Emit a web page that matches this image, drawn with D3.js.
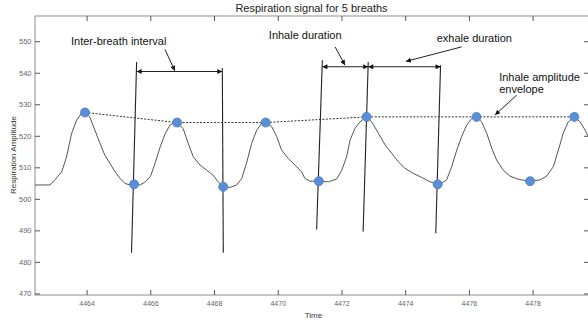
<!DOCTYPE html>
<html>
<head>
<meta charset="utf-8">
<script src="https://cdn.jsdelivr.net/npm/d3@7"></script>
<style>
body { margin: 0; background: #fff; }
text { font-family: "Liberation Sans", Arial, sans-serif; }
</style>
</head>
<body>
<script>
// respiration trace
var sigTime = [4462.38, 4462.85, 4463.00, 4463.22, 4463.37, 4463.53, 4463.69, 4463.84, 4463.95, 4464.10,
    4464.26, 4464.42, 4464.57, 4464.73, 4464.89, 4465.05, 4465.20, 4465.36, 4465.49, 4465.68,
    4465.84, 4466.00, 4466.15, 4466.31, 4466.47, 4466.62, 4466.78, 4466.84, 4467.03, 4467.19,
    4467.35, 4467.56, 4467.77, 4467.97, 4468.13, 4468.29, 4468.50, 4468.71, 4468.87, 4469.02,
    4469.18, 4469.34, 4469.49, 4469.62, 4469.81, 4469.97, 4470.12, 4470.33, 4470.54, 4470.75,
    4470.85, 4471.01, 4471.29, 4471.59, 4471.85, 4472.01, 4472.16, 4472.27, 4472.42, 4472.58,
    4472.79, 4472.95, 4473.16, 4473.37, 4473.58, 4473.78, 4473.99, 4474.25, 4474.52, 4474.78,
    4475.02, 4475.09, 4475.30, 4475.46, 4475.62, 4475.77, 4475.93, 4476.09, 4476.24, 4476.40,
    4476.56, 4476.72, 4476.87, 4477.08, 4477.29, 4477.55, 4477.92, 4478.23, 4478.44, 4478.65,
    4478.81, 4478.96, 4479.12, 4479.31, 4479.49, 4479.65, 4479.77];
var sigAmp = [504.4, 504.4, 506.0, 508.6, 513.3, 520.8, 525.0, 527.1, 527.4, 526.0,
    521.8, 517.6, 513.9, 511.3, 508.6, 506.5, 504.9, 504.4, 504.6, 504.4,
    505.4, 507.0, 511.3, 516.5, 520.8, 523.4, 524.4, 524.2, 522.3, 517.6,
    513.3, 510.7, 509.1, 507.5, 505.4, 503.8, 503.6, 504.4, 506.5, 511.3,
    517.6, 521.8, 523.9, 524.2, 522.9, 519.7, 515.5, 512.8, 510.7, 508.6,
    506.5, 505.6, 505.6, 505.4, 506.3, 509.1, 513.3, 518.6, 522.3, 524.4,
    526.0, 524.4, 520.8, 517.1, 514.4, 511.8, 509.7, 508.1, 506.8, 505.4,
    504.6, 504.6, 506.0, 510.2, 515.5, 519.7, 523.4, 525.5, 526.0, 524.4,
    520.8, 516.0, 512.3, 509.1, 507.2, 506.2, 505.6, 506.0, 507.2, 510.2,
    515.5, 520.8, 524.4, 526.0, 524.4, 521.8, 519.2];

var peakTime = [4463.95, 4466.84, 4469.62, 4472.79, 4476.24, 4479.31];
var peakAmp = [527.4, 524.2, 524.2, 526.0, 526.0, 526.0];
var troughTime = [4465.49, 4468.29, 4471.29, 4475.02, 4477.92];
var troughAmp = [504.6, 503.8, 505.6, 504.6, 505.6];

var xTicks = [4464, 4466, 4468, 4470, 4472, 4474, 4476, 4478];
var yTicks = [470, 480, 490, 500, 510, 520, 530, 540, 550];

// annotation marks, in time / amplitude units
var guideLines = [
    [4465.57, 543.4, 4465.41, 482.9],
    [4468.26, 541.5, 4468.29, 482.9],
    [4471.40, 544.0, 4471.22, 490.3],
    [4472.84, 543.4, 4472.68, 489.6],
    [4475.11, 542.4, 4474.96, 489.1]
];
var spans = [
    [4465.57, 4468.26, 540.4],
    [4471.40, 4472.84, 541.9],
    [4472.84, 4475.11, 541.9]
];
var pointers = [
    [4466.46, 547.4, 4466.77, 540.6],
    [4471.80, 548.2, 4472.11, 542.4],
    [4475.77, 548.2, 4474.02, 543.6],
    [4477.50, 532.9, 4476.82, 526.6]
];
var labels = [
    ["Inter-breath interval", 4463.51, 550.0],
    ["Inhale duration", 4469.72, 551.9],
    ["exhale duration", 4474.99, 551.0],
    ["Inhale amplitude", 4476.95, 538.7],
    ["envelope", 4476.95, 534.7]
];

var width = 588, height = 324;
var mLeft = 35, mRight = 589, mTop = 16, mBottom = 295;

var svg = d3.select("body").append("svg")
    .attr("width", width)
    .attr("height", height);

var x = d3.scaleLinear().domain([4462.38, 4479.77]).range([mLeft, mRight]);
var y = d3.scaleLinear().domain([469.5, 558]).range([mBottom, mTop]);

svg.append("defs").append("marker")
    .attr("id", "head")
    .attr("viewBox", "0 -5 10 10")
    .attr("refX", 10)
    .attr("refY", 0)
    .attr("markerWidth", 6)
    .attr("markerHeight", 5)
    .attr("markerUnits", "userSpaceOnUse")
    .attr("orient", "auto-start-reverse")
    .append("path")
    .attr("d", "M0,-5L10,0L0,5Z")
    .attr("fill", "#111");

// frame
svg.append("rect")
    .attr("x", mLeft).attr("y", mTop)
    .attr("width", mRight - mLeft).attr("height", mBottom - mTop)
    .attr("fill", "none")
    .attr("stroke", "#a0a0a0")
    .attr("stroke-width", 1.2);

function styleAxis(g) {
    g.select(".domain").remove();
    g.selectAll(".tick line").attr("stroke", "#555");
    g.selectAll(".tick text").attr("fill", "#666").attr("font-family", "Liberation Sans, Arial, sans-serif");
}

svg.append("g")
    .attr("transform", `translate(0,${mBottom})`)
    .call(d3.axisBottom(x).tickValues(xTicks).tickSize(-5).tickPadding(6.5).tickFormat(d3.format("d")))
    .call(styleAxis)
    .selectAll("text").attr("font-size", 7);

svg.append("g")
    .attr("transform", `translate(0,${mTop})`)
    .call(d3.axisTop(x).tickValues(xTicks).tickSize(-5).tickFormat(""))
    .call(styleAxis);

svg.append("g")
    .attr("transform", `translate(${mLeft},0)`)
    .call(d3.axisLeft(y).tickValues(yTicks).tickSize(-5).tickPadding(3.5))
    .call(styleAxis)
    .selectAll("text").attr("font-size", 7.5);

svg.append("g")
    .attr("transform", `translate(${mRight},0)`)
    .call(d3.axisRight(y).tickValues(yTicks).tickSize(-5).tickFormat(""))
    .call(styleAxis);

// titles
svg.append("text")
    .attr("x", 311.5).attr("y", 8)
    .attr("dy", "0.35em")
    .attr("text-anchor", "middle")
    .attr("font-size", 11)
    .attr("fill", "#222")
    .text("Respiration signal for 5 breaths");

svg.append("text")
    .attr("x", 313.5).attr("y", 315)
    .attr("dy", "0.35em")
    .attr("text-anchor", "middle")
    .attr("font-size", 8)
    .attr("fill", "#333")
    .text("Time");

svg.append("text")
    .attr("transform", "translate(13,155) rotate(-90)")
    .attr("dy", "0.35em")
    .attr("text-anchor", "middle")
    .attr("font-size", 8)
    .attr("fill", "#333")
    .text("Respiration Amplitude");

var plot = svg.append("g");

// signal
var sig = sigTime.map((t, i) => [t, sigAmp[i]]);
plot.append("path")
    .datum(sig)
    .attr("fill", "none")
    .attr("stroke", "#555")
    .attr("stroke-width", 1)
    .attr("d", d3.line().x(d => x(d[0])).y(d => y(d[1])));

// amplitude envelope
var peaks = peakTime.map((t, i) => [t, peakAmp[i]]);
plot.append("path")
    .datum(peaks)
    .attr("fill", "none")
    .attr("stroke", "#333")
    .attr("stroke-width", 1)
    .attr("stroke-dasharray", "2,1.5")
    .attr("d", d3.line().x(d => x(d[0])).y(d => y(d[1])));

// annotation lines
plot.selectAll(".guide")
    .data(guideLines)
    .enter().append("line")
    .attr("class", "guide")
    .attr("x1", d => x(d[0])).attr("y1", d => y(d[1]))
    .attr("x2", d => x(d[2])).attr("y2", d => y(d[3]))
    .attr("stroke", "#222")
    .attr("stroke-width", 1.1);

plot.selectAll(".span")
    .data(spans)
    .enter().append("line")
    .attr("class", "span")
    .attr("x1", d => x(d[0])).attr("y1", d => y(d[2]))
    .attr("x2", d => x(d[1])).attr("y2", d => y(d[2]))
    .attr("stroke", "#222")
    .attr("stroke-width", 1.1)
    .attr("marker-start", "url(#head)")
    .attr("marker-end", "url(#head)");

plot.selectAll(".pointer")
    .data(pointers)
    .enter().append("line")
    .attr("class", "pointer")
    .attr("x1", d => x(d[0])).attr("y1", d => y(d[1]))
    .attr("x2", d => x(d[2])).attr("y2", d => y(d[3]))
    .attr("stroke", "#222")
    .attr("stroke-width", 1)
    .attr("marker-end", "url(#head)");

plot.selectAll(".note")
    .data(labels)
    .enter().append("text")
    .attr("class", "note")
    .attr("x", d => x(d[1])).attr("y", d => y(d[2]))
    .attr("dy", "0.35em")
    .attr("font-size", 11)
    .attr("fill", "#111")
    .text(d => d[0]);

// peak and trough markers
var dots = peaks.concat(troughTime.map((t, i) => [t, troughAmp[i]]));
plot.selectAll(".dot")
    .data(dots)
    .enter().append("circle")
    .attr("class", "dot")
    .attr("cx", d => x(d[0])).attr("cy", d => y(d[1]))
    .attr("r", 4.5)
    .attr("fill", "#5b8fd4")
    .attr("stroke", "#4a7bbd")
    .attr("stroke-width", 0.8);
</script>
</body>
</html>
